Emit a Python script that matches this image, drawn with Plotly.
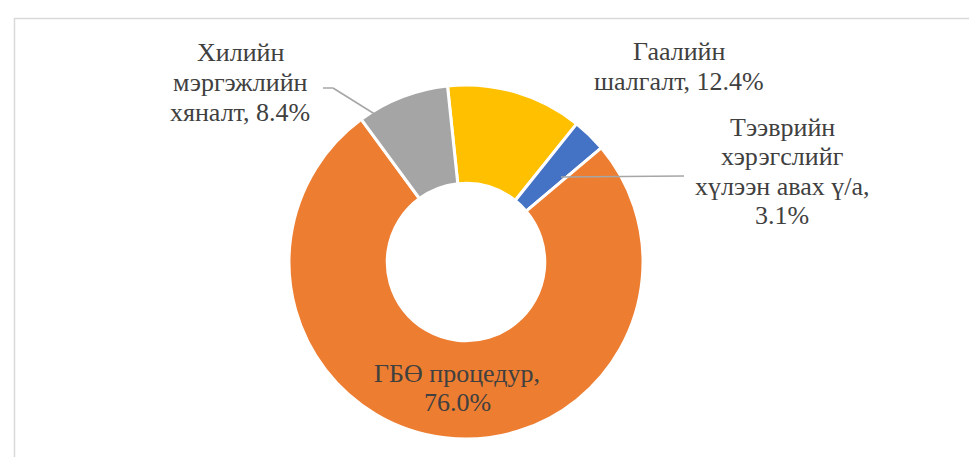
import plotly.graph_objects as go

categories = ["Гаалийн шалгалт", "Тээврийн хэрэгслийг хүлээн авах ү/а", "ГБӨ процедур", "Хилийн мэргэжлийн хяналт"]
values = [12.4, 3.1, 76.0, 8.4]
label_lines = [["Гаалийн", "шалгалт, 12.4%"],
               ["Тээврийн", "хэрэгслийг", "хүлээн авах ү/а,", "3.1%"],
               ["ГБӨ процедур,", "76.0%"],
               ["Хилийн", "мэргэжлийн", "хяналт, 8.4%"]]
colors = ["#FFC000", "#4472C4", "#ED7D31", "#A5A5A5"]

W, H = 977, 457
FONT = "Times New Roman"
TXT = "#404040"
FSIZE = 26
LINE_GAP = 29.5

def px(x, y):
    return x / W, 1 - y / H

fig = go.Figure()
fig.add_trace(go.Pie(
    labels=categories,
    values=values,
    textinfo="none",
    sort=False,
    direction="clockwise",
    rotation=-6,
    hole=0.445,
    marker=dict(colors=colors, line=dict(color="white", width=3)),
    domain=dict(x=[281 / W, 635 / W], y=[1 - 431 / H, 1 - 77 / H]),
    showlegend=False,
    hoverinfo="label+percent",
))

# (center x, first-line center y) of each label block, in pixels
label_pos = [(671, 44), (774, 119), (449, 365), (232, 45)]
annotations = []
for lines, (x, y0) in zip(label_lines, label_pos):
    for k, line in enumerate(lines):
        ax_, ay_ = px(x, y0 + k * LINE_GAP)
        annotations.append(dict(
            x=ax_, y=ay_, xref="paper", yref="paper", text=line,
            showarrow=False, xanchor="center", yanchor="middle", align="center",
            font=dict(family=FONT, size=FSIZE, color=TXT),
        ))

shapes = []
def seg(x0, y0, x1, y1, color="#A6A6A6", width=1.5):
    a = px(x0, y0); b = px(x1, y1)
    return dict(type="line", xref="paper", yref="paper", x0=a[0], y0=a[1], x1=b[0], y1=b[1],
                line=dict(color=color, width=width))

shapes.append(seg(315, 80, 325, 80))
shapes.append(seg(325, 80, 373, 110))
shapes.append(seg(553, 169, 676, 168))
shapes.append(seg(6, 10.5, 977, 10.5, color="#D9D9D9", width=1.5))
shapes.append(seg(6.5, 10, 6.5, 457, color="#D9D9D9", width=1.5))

fig.update_layout(
    width=W, height=H,
    margin=dict(l=0, r=0, t=0, b=0),
    paper_bgcolor="white",
    plot_bgcolor="white",
    annotations=annotations,
    shapes=shapes,
)

fig.write_html("out.html")
